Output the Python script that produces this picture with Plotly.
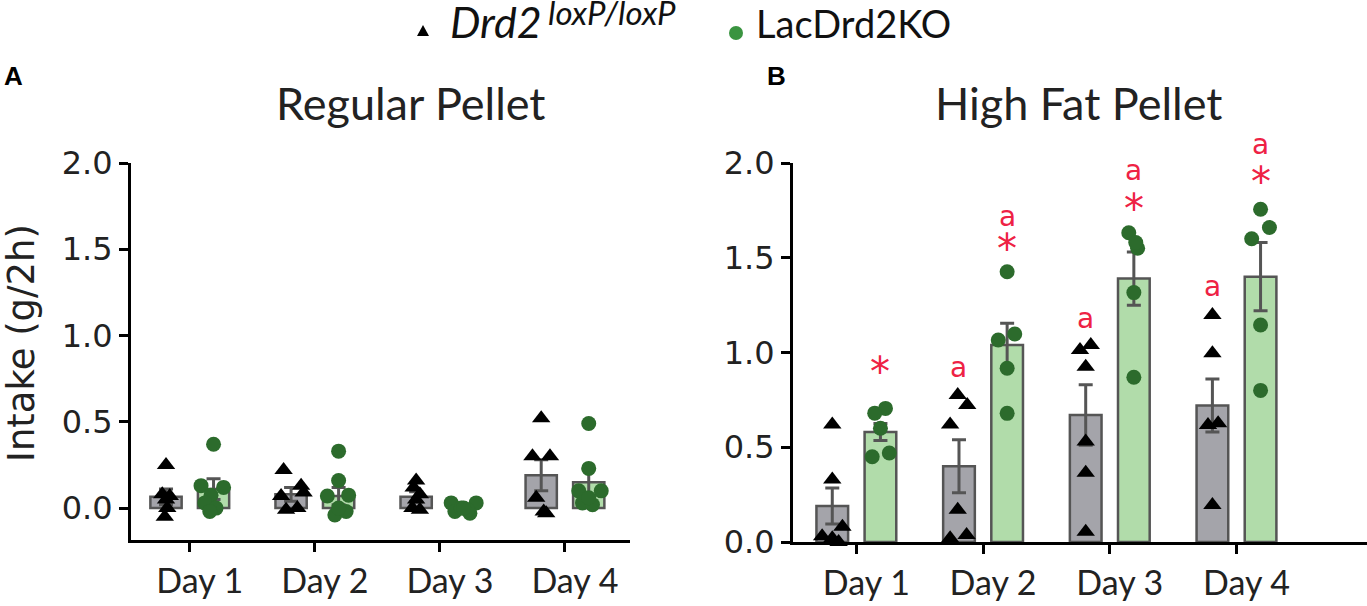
import plotly.graph_objects as go

# ---------------- data ----------------
DAYS = ["Day 1", "Day 2", "Day 3", "Day 4"]
Y_TICKS = [0.0, 0.5, 1.0, 1.5, 2.0]
Y_TICK_TEXT = ["0.0", "0.5", "1.0", "1.5", "2.0"]

CTRL_BASE = "<i>Drd2</i>"
CTRL_SUP = "<i>loxP/loxP</i>"
KO_NAME = "LacDrd2KO"
Y_TITLE = "Intake (g/2h)"

# Panel A: Regular Pellet
A_CTRL_MEAN = [0.065, 0.08, 0.065, 0.19]
A_CTRL_SEM = [0.045, 0.04, 0.03, 0.09]
A_KO_MEAN = [0.11, 0.07, 0.0, 0.15]
A_KO_SEM = [0.06, 0.05, 0.01, 0.08]
A_CTRL_PTS = [
    [0.25, 0.08, 0.07, 0.05, 0.0, -0.05],
    [0.22, 0.13, 0.07, 0.09, -0.01, 0.0],
    [0.16, 0.12, 0.08, 0.05, 0.0, -0.01],
    [0.52, 0.30, 0.30, 0.06, -0.02, -0.03],
]
A_CTRL_JIT = [
    [0.0, -0.03, 0.03, 0.0, 0.01, -0.01],
    [-0.06, 0.08, -0.08, 0.1, -0.04, 0.05],
    [0.0, -0.02, 0.03, 0.0, -0.03, 0.03],
    [0.0, -0.07, 0.07, -0.04, 0.02, 0.04],
]
A_KO_PTS = [
    [0.37, 0.13, 0.12, 0.075, 0.03, 0.0, -0.02],
    [0.33, 0.16, 0.07, 0.075, -0.04, -0.02, 0.0],
    [0.03, 0.03, -0.02, -0.03, 0.0, -0.01, 0.0],
    [0.49, 0.23, 0.10, 0.10, 0.03, 0.02, 0.06],
]
A_KO_JIT = [
    [0.0, -0.1, 0.08, -0.02, -0.07, 0.02, -0.03],
    [0.0, 0.0, -0.09, 0.08, -0.03, 0.06, 0.0],
    [-0.1, 0.1, -0.07, 0.05, -0.02, 0.03, 0.0],
    [0.0, 0.0, -0.08, 0.1, -0.05, 0.03, 0.0],
]

# Panel B: High Fat Pellet
B_CTRL_MEAN = [0.19, 0.40, 0.67, 0.72]
B_CTRL_SEM = [0.095, 0.14, 0.16, 0.14]
B_KO_MEAN = [0.58, 1.04, 1.39, 1.40]
B_KO_SEM = [0.045, 0.115, 0.14, 0.18]
B_CTRL_PTS = [
    [0.62, 0.33, 0.08, 0.03, 0.02, 0.0],
    [0.776, 0.723, 0.62, 0.17, 0.02, 0.037],
    [1.013, 1.04, 0.925, 0.53, 0.366, 0.054],
    [1.198, 0.996, 0.617, 0.626, 0.195],
]
B_CTRL_JIT = [
    [0.0, 0.0, 0.08, -0.08, 0.0, 0.05],
    [-0.01, 0.065, -0.07, -0.01, -0.07, 0.06],
    [-0.045, 0.04, 0.0, 0.0, 0.0, 0.0],
    [0.0, 0.0, -0.035, 0.045, 0.0],
]
B_KO_PTS = [
    [0.705, 0.68, 0.60, 0.47, 0.45],
    [1.426, 1.066, 1.098, 0.917, 0.679],
    [1.632, 1.55, 1.58, 1.316, 0.869],
    [1.756, 1.66, 1.60, 1.145, 0.80],
]
B_KO_JIT = [
    [0.04, -0.045, 0.0, 0.07, -0.065],
    [0.0, -0.07, 0.06, 0.0, 0.0],
    [-0.04, 0.03, 0.015, 0.0, 0.0],
    [0.0, 0.07, -0.07, 0.0, 0.0],
]

# significance marks (panel B): day index, group, label, y level
SIG_DAY = [0, 1, 1, 1, 2, 2, 2, 3, 3, 3]
SIG_GROUP = ["ko", "ctrl", "ko", "ko", "ctrl", "ko", "ko", "ctrl", "ko", "ko"]
SIG_TEXT = ["*", "a", "a", "*", "a", "a", "*", "a", "a", "*"]
SIG_Y = [0.95, 0.92, 1.72, 1.60, 1.18, 1.96, 1.81, 1.35, 2.10, 1.95]

# ---------------- styles ----------------
W, H = 1367, 606
PAGE_OFF = 0  # body margin removed by post_script below
GRAY_FILL = "#a4a4aa"
GREEN_FILL = "#b1dcaa"
EDGE = "#555555"
DOT_GREEN = "#2c6b2c"
LEG_GREEN = "#3a9440"
RED = "#ee2244"
OFF = 0.19
BW = 0.25
B_YMAX = 2.0
B_PX_PER_UNIT = 379 / 2.0

def px_x(p):
    return (p - PAGE_OFF) / W

def px_y(p):
    return 1 - (p - PAGE_OFF) / H

fig = go.Figure()

def add_panel(xa, ya, cm, cs, km, ks, cp, cj, kp, kj):
    xs = list(range(len(DAYS)))
    fig.add_trace(go.Bar(
        x=[i - OFF for i in xs], y=cm, width=BW, xaxis=xa, yaxis=ya,
        marker=dict(color=GRAY_FILL, line=dict(color=EDGE, width=2.5)),
        error_y=dict(type="data", array=cs, color=EDGE, thickness=3, width=7),
        showlegend=False, hoverinfo="skip"))
    fig.add_trace(go.Bar(
        x=[i + OFF for i in xs], y=km, width=BW, xaxis=xa, yaxis=ya,
        marker=dict(color=GREEN_FILL, line=dict(color=EDGE, width=2.5)),
        error_y=dict(type="data", array=ks, color=EDGE, thickness=3, width=7),
        showlegend=False, hoverinfo="skip"))
    tx, ty, cx, cy = [], [], [], []
    for i in xs:
        for v, j in zip(cp[i], cj[i]):
            tx.append(i - OFF + j); ty.append(v)
        for v, j in zip(kp[i], kj[i]):
            cx.append(i + OFF + j); cy.append(v)
    fig.add_trace(go.Scatter(
        x=tx, y=ty, mode="markers", xaxis=xa, yaxis=ya, name="Drd2 loxP/loxP",
        marker=dict(symbol="triangle-up", size=16, color="black"),
        showlegend=False, cliponaxis=False))
    fig.add_trace(go.Scatter(
        x=cx, y=cy, mode="markers", xaxis=xa, yaxis=ya, name=KO_NAME,
        marker=dict(symbol="circle", size=15, color=DOT_GREEN),
        showlegend=False, cliponaxis=False))

add_panel("x", "y", A_CTRL_MEAN, A_CTRL_SEM, A_KO_MEAN, A_KO_SEM,
          A_CTRL_PTS, A_CTRL_JIT, A_KO_PTS, A_KO_JIT)
add_panel("x2", "y2", B_CTRL_MEAN, B_CTRL_SEM, B_KO_MEAN, B_KO_SEM,
          B_CTRL_PTS, B_CTRL_JIT, B_KO_PTS, B_KO_JIT)

TICKFONT_Y = dict(family="DejaVu Sans", size=32, color="#222")
TICKFONT_X = dict(family="Lato", size=34, color="#222")

axis_common = dict(showgrid=False, zeroline=False, showline=True, linecolor="black",
                   linewidth=3, ticks="outside", tickwidth=3, tickcolor="black",
                   ticklen=9, automargin=False)

fig.update_layout(
    width=W, height=H, margin=dict(l=0, r=0, t=0, b=0, autoexpand=False),
    paper_bgcolor="white", plot_bgcolor="white", barmode="overlay",
    showlegend=False,
    xaxis=dict(domain=[px_x(131), px_x(630)], range=[-0.47, 3.52],
               tickvals=list(range(4)), ticktext=DAYS, tickfont=TICKFONT_X,
               anchor="y", ticklabelshift=10, **axis_common),
    yaxis=dict(domain=[px_y(540), px_y(163)], range=[-0.185, 2.0],
               tickvals=Y_TICKS, ticktext=Y_TICK_TEXT, tickfont=TICKFONT_Y,
               anchor="x", **axis_common),
    xaxis2=dict(domain=[px_x(793), 1.0], range=[-0.5, 4.03],
                tickvals=list(range(4)), ticktext=DAYS, tickfont=TICKFONT_X,
                anchor="y2", ticklabelshift=10, **axis_common),
    yaxis2=dict(domain=[px_y(542), px_y(163)], range=[0, B_YMAX],
                tickvals=Y_TICKS, ticktext=Y_TICK_TEXT, tickfont=TICKFONT_Y,
                anchor="x2", **axis_common),
)

# ---- legend drawn by hand (swatches as shapes, labels as text) ----
shapes = []
tri = "M {:.5f},{:.5f} L {:.5f},{:.5f} L {:.5f},{:.5f} Z".format(
    px_x(417), px_y(36), px_x(429), px_y(36), px_x(423), px_y(25))
shapes.append(dict(type="path", path=tri, xref="paper", yref="paper",
                   fillcolor="black", line=dict(width=0)))
shapes.append(dict(type="circle", xref="paper", yref="paper",
                   x0=px_x(729), x1=px_x(743), y0=px_y(40), y1=px_y(26),
                   fillcolor=LEG_GREEN, line=dict(width=0)))
fig.update_layout(shapes=shapes)

ann = []
ann.append(dict(text=CTRL_BASE, x=px_x(448), y=px_y(22), xref="paper", yref="paper",
                showarrow=False, font=dict(family="Lato", size=43, color="#111"),
                xanchor="left", yanchor="middle"))
ann.append(dict(text=CTRL_SUP, x=px_x(546), y=px_y(12), xref="paper", yref="paper",
                showarrow=False, font=dict(family="Lato", size=33, color="#111"),
                xanchor="left", yanchor="middle"))
ann.append(dict(text=KO_NAME, x=px_x(754), y=px_y(23), xref="paper", yref="paper",
                showarrow=False, font=dict(family="Lato", size=38, color="#111"),
                xanchor="left", yanchor="middle"))
ann.append(dict(text=Y_TITLE, x=px_x(21), y=px_y(343), xref="paper", yref="paper",
                showarrow=False, textangle=-90,
                font=dict(family="DejaVu Sans", size=37, color="#222"),
                xanchor="center", yanchor="middle"))
ann.append(dict(text="<b>A</b>", x=px_x(13), y=px_y(76), xref="paper", yref="paper",
                showarrow=False, font=dict(family="Liberation Sans", size=26, color="black"),
                xanchor="center", yanchor="middle"))
ann.append(dict(text="<b>B</b>", x=px_x(776), y=px_y(76), xref="paper", yref="paper",
                showarrow=False, font=dict(family="Liberation Sans", size=26, color="black"),
                xanchor="center", yanchor="middle"))
ann.append(dict(text="Regular Pellet", x=px_x(410), y=px_y(103), xref="paper", yref="paper",
                showarrow=False, font=dict(family="Lato", size=45, color="#222"),
                xanchor="center", yanchor="middle"))
ann.append(dict(text="High Fat Pellet", x=px_x(1078), y=px_y(103), xref="paper", yref="paper",
                showarrow=False, font=dict(family="Lato", size=45, color="#222"),
                xanchor="center", yanchor="middle"))
for d, g, t, yv in zip(SIG_DAY, SIG_GROUP, SIG_TEXT, SIG_Y):
    xv = d - OFF if g == "ctrl" else d + OFF
    base_shift = -10 if t == "*" else 0
    extra = 0
    if yv > B_YMAX:
        extra = (yv - B_YMAX) * B_PX_PER_UNIT
        yv = B_YMAX
    ann.append(dict(text=t, x=xv, y=yv, xref="x2", yref="y2", showarrow=False,
                    font=dict(family="DejaVu Sans", size=40 if t == "*" else 28, color=RED),
                    xanchor="center", yanchor="middle",
                    yshift=base_shift + extra))
fig.update_layout(annotations=ann)

fig.write_html("out.html", config={"displayModeBar": False},
               post_script="document.body.style.margin='0px';document.body.style.overflow='hidden';")
